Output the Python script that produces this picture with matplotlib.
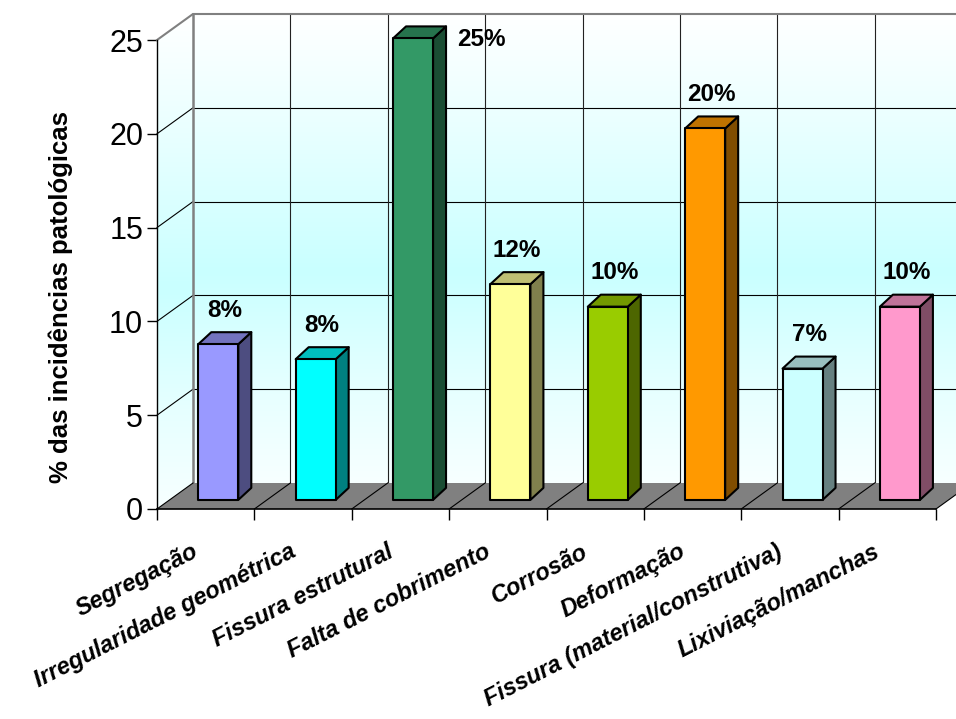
import numpy as np
import matplotlib
matplotlib.use("Agg")
import matplotlib.pyplot as plt
from matplotlib.patches import Polygon
from matplotlib.colors import LinearSegmentedColormap, to_rgb

plt.rcParams['font.family'] = ['Liberation Sans', 'DejaVu Sans']

# --- data -------------------------------------------------------------
categories = ["Segregação", "Irregularidade geométrica", "Fissura estrutural",
              "Falta de cobrimento", "Corrosão", "Deformação",
              "Fissura (material/construtiva)", "Lixiviação/manchas"]
values = [8.3, 7.5, 24.6, 11.5, 10.3, 19.8, 7.0, 10.3]
bar_colors = ["#9999FF", "#00FFFF", "#339966", "#FFFF99",
              "#99CC00", "#FF9900", "#CCFFFF", "#FF99CC"]
y_ticks = [0, 5, 10, 15, 20, 25]
y_label = "% das incidências patológicas"

# --- figure / projection geometry ------------------------------------
W, H, DPI = 956, 719, 100
fig = plt.figure(figsize=(W / DPI, H / DPI), dpi=DPI)

x0_px, x8_px = 157, 936          # front floor edge, left/right
y0_px, y25_px = 509, 40          # value 0 and 25 on the front axis
px_x = (x8_px - x0_px) / len(categories)
px_y = (y0_px - y25_px) / 25.0

ax = fig.add_axes([x0_px / W, 1 - y0_px / H, (W - x0_px) / W, y0_px / H])
n = len(categories)
ymax = 25

# depth vector of the chart box (data units)
DX, DY = 36 / px_x, 26 / px_y
# bar placement in depth and its own thickness
f_front = 0.35
BDX, BDY = 13 / px_x, 12 / px_y
bw = 40 / px_x

# --- walls with gradient ---------------------------------------------
grad = LinearSegmentedColormap.from_list(
    "wall", [(0.0, "#F7FFFF"), (0.2, "#E6FFFF"), (0.45, "#C9FFFF"),
             (0.75, "#E8FFFF"), (1.0, "#FFFFFF")])
g = np.linspace(0, 1, 256).reshape(-1, 1)
im = ax.imshow(g, cmap=grad, origin="lower", aspect="auto",
               extent=[0, n + DX, DY, ymax + DY], interpolation="bilinear",
               zorder=0)
back = Polygon([(0, 0), (0, ymax), (DX, ymax + DY), (n + DX, ymax + DY),
                (n + DX, DY), (DX, DY)], closed=True,
               transform=ax.transData, facecolor="none", edgecolor="none")
ax.add_patch(back)
im.set_clip_box(None)
im.set_clip_path(back)
# side wall gets the same gradient but starts at the axis
im2 = ax.imshow(g, cmap=grad, origin="lower", aspect="auto",
                extent=[0, DX, 0, ymax + DY], interpolation="bilinear", zorder=0)
side = Polygon([(0, 0), (DX, DY), (DX, ymax + DY), (0, ymax)], closed=True,
               transform=ax.transData, facecolor="none", edgecolor="none")
ax.add_patch(side)
im2.set_clip_box(None)
im2.set_clip_path(side)
ax.set_xlim(0, (W - x0_px) / px_x)
ax.set_ylim(0, y0_px / px_y)

# gridlines: back wall horizontals and side-wall diagonals
for t in y_ticks[1:-1]:
    ax.plot([DX, n + DX], [t + DY, t + DY], color="black", lw=0.8, zorder=1,
            clip_on=False)
    ax.plot([0, DX], [t, t + DY], color="black", lw=0.8, zorder=1, clip_on=False)
# back wall verticals at category boundaries
for i in range(1, n + 1):
    ax.plot([i + DX, i + DX], [DY, ymax + DY], color="#222222", lw=0.8,
            zorder=1, clip_on=False)
# wall edges
ax.plot([0, DX, n + DX], [ymax, ymax + DY, ymax + DY], color="#808080", lw=1.5,
        zorder=2, clip_on=False)
ax.plot([DX, DX], [DY, ymax + DY], color="#808080", lw=1.8, zorder=2,
        clip_on=False)

# --- floor ---------------------------------------------------------------
floor = Polygon([(0, 0), (n, 0), (n + DX, DY), (DX, DY)], closed=True,
                facecolor="#808080", edgecolor="none", zorder=3, clip_on=False)
ax.add_patch(floor)
for i in range(0, n + 1):
    ax.plot([i, i + DX], [0, DY], color="black", lw=0.8, zorder=3.5,
            clip_on=False)

# --- bars ------------------------------------------------------------------
def shade(c, k):
    r, g_, b = to_rgb(c)
    return (r * k, g_ * k, b * k)

for i, (v, c) in enumerate(zip(values, bar_colors)):
    xa = i + 0.5 - bw / 2 + f_front * DX
    xb = xa + bw
    ya = f_front * DY
    yb = ya + v
    kw = dict(edgecolor="black", lw=1.5, joinstyle="round", zorder=5 + i * 0.01)
    ax.add_patch(Polygon([(xb, ya), (xb + BDX, ya + BDY), (xb + BDX, yb + BDY),
                          (xb, yb)], closed=True, facecolor=shade(c, 0.5), **kw))
    ax.add_patch(Polygon([(xa, yb), (xb, yb), (xb + BDX, yb + BDY),
                          (xa + BDX, yb + BDY)], closed=True,
                         facecolor=shade(c, 0.75), **kw))
    ax.add_patch(Polygon([(xa, ya), (xb, ya), (xb, yb), (xa, yb)], closed=True,
                         facecolor=c, **kw))
    label = f"{int(v + 0.5)}%"
    xc = (xa + xb) / 2 + BDX / 2
    if yb + 2.2 > ymax + DY:
        # no room above the tallest bar: put its label beside it
        ax.annotate(label, xy=(xc, yb), xytext=(62, -1),
                    textcoords="offset pixels", ha="center", va="center",
                    fontsize=17.5, fontweight="bold", zorder=10,
                    annotation_clip=False)
    else:
        ax.annotate(label, xy=(xc, yb), xytext=(0, 34),
                    textcoords="offset pixels", ha="center", va="center",
                    fontsize=17.5, fontweight="bold", zorder=10,
                    annotation_clip=False)

# --- axes: front floor edge and value axis ---------------------------------
for s in ["top", "right"]:
    ax.spines[s].set_visible(False)
ax.spines["left"].set_bounds(0, ymax)
ax.spines["bottom"].set_bounds(0, n)
ax.spines["left"].set_linewidth(1.0)
ax.spines["bottom"].set_linewidth(1.2)
ax.spines["left"].set_zorder(6)
ax.spines["bottom"].set_zorder(6)
ax.set_yticks(y_ticks)
ax.set_yticklabels([str(t) for t in y_ticks], fontsize=22)
ax.tick_params(axis="y", length=7, width=1, pad=3)
ax.set_xticks(np.arange(0, n + 1))
ax.set_xticklabels([])
ax.tick_params(axis="x", length=8, width=1)

for i, name in enumerate(categories):
    ax.annotate(name, xy=(i + 0.5, 0), xytext=(-14, -31),
                textcoords="offset pixels", rotation=27, rotation_mode="anchor",
                ha="right", va="top", fontsize=17, fontweight="bold",
                fontstyle="italic", annotation_clip=False)

fig.text(61 / W, 1 - 297 / H, y_label, rotation=90, ha="center", va="center",
         fontsize=18.5, fontweight="bold")

fig.savefig("out.png", dpi=DPI)
